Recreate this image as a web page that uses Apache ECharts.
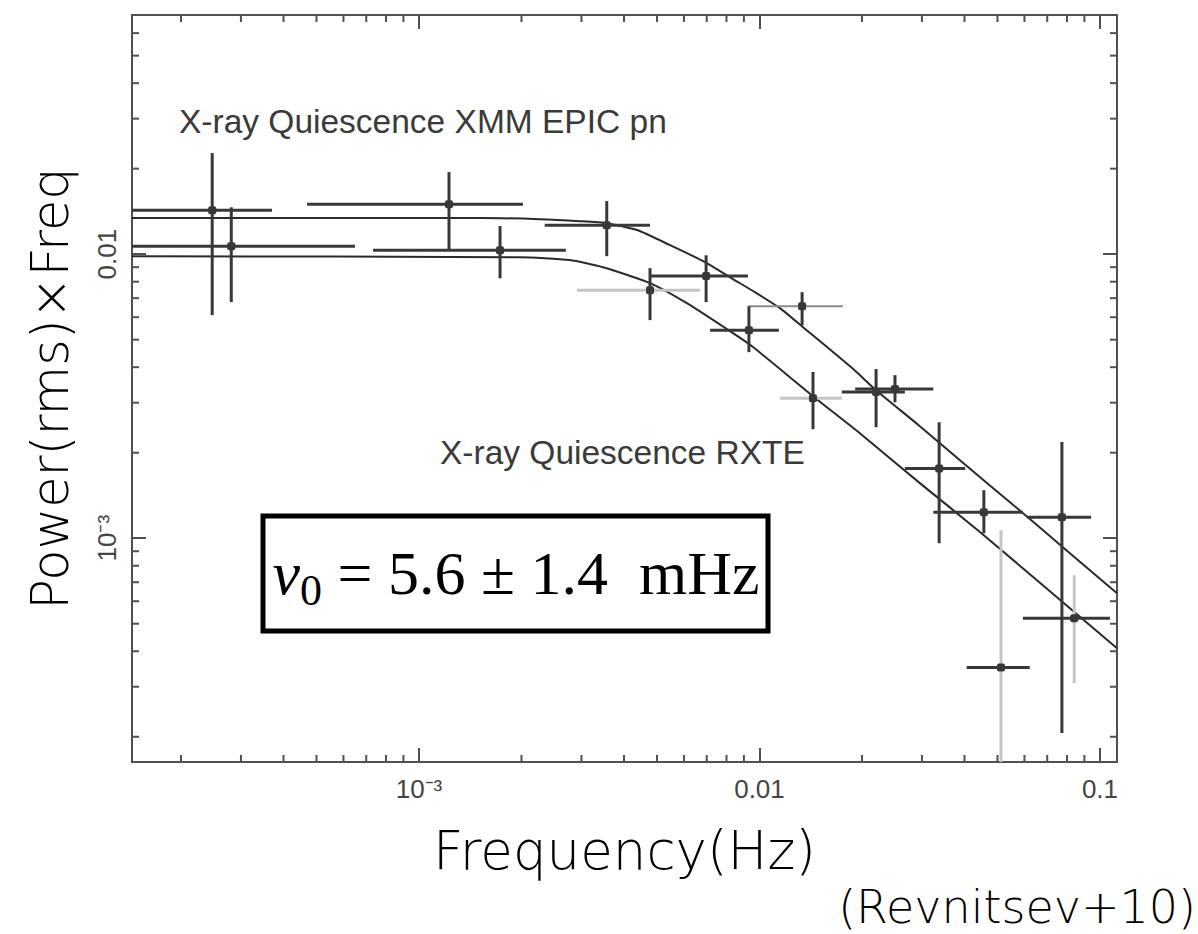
<!DOCTYPE html>
<html>
<head>
<meta charset="utf-8">
<script src="https://cdn.jsdelivr.net/npm/echarts@6/dist/echarts.min.js"></script>
<style>
html, body { margin: 0; padding: 0; background: #ffffff; }
#chart { width: 1198px; height: 934px; }
</style>
</head>
<body>
<div id="chart"></div>
<script>
// ---------- axis ranges and tick labels ----------
const xRange = [1.436e-4, 0.1122];
const yRange = [1.63e-4, 0.0695];
const xTickValues = [0.001, 0.01, 0.1];
const xTickLabels = ['10⁻³', '0.01', '0.1'];
const yTickValues = [0.001, 0.01];
const yTickLabels = ['10⁻³', '0.01'];
const minorMultipliers = [2, 3, 4, 5, 6, 7, 8, 9];
const decades = [-5, -4, -3, -2, -1, 0];

// ---------- data: [freq, freqLow, freqHigh, power, powerLow, powerHigh] ----------
const xmmPoints = [
  [2.47e-4, 1.2e-4, 3.70e-4, 0.01429, 0.00610, 0.0227],
  [1.225e-3, 4.69e-4, 2.02e-3, 0.0150, 0.01042, 0.01945],
  [3.56e-3, 2.34e-3, 4.77e-3, 0.01265, 0.00984, 0.01538],
  [6.97e-3, 4.77e-3, 9.25e-3, 0.00837, 0.00678, 0.00991],
  [0.0220, 0.01745, 0.02673, 0.00327, 0.00246, 0.00394],
  [0.0250, 0.0191, 0.0324, 0.00335, 0.00301, 0.00375],
  [0.0456, 0.0324, 0.0594, 1.234e-3, 1.041e-3, 1.476e-3],
  [0.0773, 0.0611, 0.0942, 1.186e-3, 2.06e-4, 2.18e-3]
];
const xmmFaintXPoints = [
  [0.01334, 9.31e-3, 0.01758, 0.00656, 0.00562, 0.00735]
];
const rxtePoints = [
  [2.81e-4, 1.2e-4, 6.49e-4, 0.01067, 0.00678, 0.01462],
  [1.73e-3, 7.33e-4, 2.70e-3, 0.01033, 0.00822, 0.01256],
  [9.31e-3, 7.16e-3, 0.0114, 0.00540, 0.00452, 0.00656],
  [0.0337, 0.02673, 0.0402, 0.00176, 9.6e-4, 0.00256]
];
const rxteFaintXPoints = [
  [4.77e-3, 2.91e-3, 6.68e-3, 0.00746, 0.00586, 0.00893],
  [0.01436, 0.01148, 0.01745, 0.00311, 0.00242, 0.00385]
];
const rxteFaintYPoints = [
  [0.0512, 0.0406, 0.0622, 3.51e-4, 1.2e-4, 1.067e-3],
  [0.0840, 0.0594, 0.107, 5.23e-4, 3.09e-4, 7.41e-4]
];

// ---------- model curves ----------
const xmmModelFreq = [1.436e-4, 1.51e-3, 2.26e-3, 2.97e-3, 3.56e-3, 4.37e-3, 5.46e-3, 6.92e-3, 8.36e-3, 9.57e-3, 0.01148, 0.01343, 0.01885, 0.0220, 0.02958, 0.0388, 0.0570, 0.0778, 0.1122];
const xmmModelPower = [0.01340, 0.01340, 0.01328, 0.01307, 0.01286, 0.01216, 0.01076, 0.00938, 0.00817, 0.00742, 0.00646, 0.00553, 0.00394, 0.00332, 0.00248, 0.00188, 0.001277, 9.30e-4, 6.40e-4];
const rxteModelFreq = [1.436e-4, 1.98e-3, 2.77e-3, 3.47e-3, 4.77e-3, 6.12e-3, 8.36e-3, 9.57e-3, 0.01436, 0.01972, 0.02958, 0.0445, 0.0778, 0.1122];
const rxteModelPower = [0.00984, 0.00975, 0.00953, 0.00900, 0.00791, 0.00672, 0.00527, 0.00471, 0.00316, 0.00234, 0.001563, 1.050e-3, 5.95e-4, 4.10e-4];

// ---------- texts ----------
const xAxisTitle = 'Frequency(Hz)';
const yAxisTitle = 'Power(rms)×Freq';
const labelXMM = 'X-ray Quiescence XMM EPIC pn';
const labelRXTE = 'X-ray Quiescence RXTE';
const citation = '(Revnitsev+10)';

// ---------- helpers ----------
const FRAME = '#505050';
const DARK = '#383838';

function tickFormatter(values, labels) {
  return function (v) {
    for (let i = 0; i < values.length; i++) {
      if (Math.abs(Math.log10(v / values[i])) < 1e-6) return labels[i];
    }
    return '';
  };
}

const xMinor = [], yMinor = [];
decades.forEach(function (k) {
  minorMultipliers.forEach(function (m) {
    const v = m * Math.pow(10, k);
    if (v > xRange[0] && v < xRange[1]) xMinor.push([v, yRange[0]]);
    if (v > yRange[0] && v < yRange[1]) yMinor.push([xRange[0], v]);
  });
});

function errSeries(name, rows, xColor, xWidth, yColor, yWidth) {
  return {
    type: 'custom',
    name: name,
    data: rows,
    clip: true,
    z: 5,
    encode: { x: [0, 1, 2], y: [3, 4, 5] },
    renderItem: function (params, api) {
      const f = api.value(0), fl = api.value(1), fh = api.value(2);
      const p = api.value(3), pl = api.value(4), ph = api.value(5);
      const c = api.coord([f, p]);
      const l = api.coord([fl, p]), r = api.coord([fh, p]);
      const b = api.coord([f, pl]), t = api.coord([f, ph]);
      return {
        type: 'group',
        children: [
          { type: 'line', shape: { x1: l[0], y1: l[1], x2: r[0], y2: r[1] }, style: { stroke: xColor, lineWidth: xWidth } },
          { type: 'line', shape: { x1: b[0], y1: b[1], x2: t[0], y2: t[1] }, style: { stroke: yColor, lineWidth: yWidth } },
          { type: 'rect', shape: { x: c[0] - 4, y: c[1] - 4, width: 8, height: 8, r: 2 }, style: { fill: DARK } }
        ]
      };
    }
  };
}

function zip(a, b) { return a.map(function (v, i) { return [v, b[i]]; }); }

const chart = echarts.init(document.getElementById('chart'), null, { renderer: 'svg' });

const axisCommon = {
  type: 'log',
  logBase: 10,
  axisLine: { show: true, onZero: false, lineStyle: { color: FRAME, width: 2 } },
  axisTick: { show: true, inside: true, length: 14, lineStyle: { color: FRAME, width: 2 } },
  splitLine: { show: false },
  minorTick: { show: false }
};

const option = {
  backgroundColor: '#ffffff',
  animation: false,
  grid: { left: 132, right: 81, top: 15, bottom: 172, containLabel: false },
  xAxis: [
    Object.assign({}, axisCommon, {
      position: 'bottom',
      min: xRange[0], max: xRange[1],
      axisLabel: { formatter: tickFormatter(xTickValues, xTickLabels), fontSize: 26, color: '#444', margin: 14, fontFamily: 'Liberation Sans' },
      name: xAxisTitle,
      nameLocation: 'middle',
      nameGap: 62,
      nameTextStyle: { fontSize: 53, color: '#000', fontFamily: 'DejaVu Sans', fontWeight: 200 }
    }),
    Object.assign({}, axisCommon, {
      position: 'top',
      min: xRange[0], max: xRange[1],
      axisLabel: { show: false }
    })
  ],
  yAxis: [
    Object.assign({}, axisCommon, {
      position: 'left',
      min: yRange[0], max: yRange[1],
      axisLabel: { formatter: tickFormatter(yTickValues, yTickLabels), fontSize: 26, color: '#444', margin: 12, rotate: 90, fontFamily: 'Liberation Sans' },
      name: yAxisTitle,
      nameLocation: 'middle',
      nameGap: 56,
      nameTextStyle: { fontSize: 51, color: '#000', fontFamily: 'DejaVu Sans', fontWeight: 200 }
    }),
    Object.assign({}, axisCommon, {
      position: 'right',
      min: yRange[0], max: yRange[1],
      axisLabel: { show: false }
    })
  ],
  series: [
    {
      type: 'line', name: 'XMM model', data: zip(xmmModelFreq, xmmModelPower),
      showSymbol: false, smooth: 0.2, clip: true, z: 3,
      lineStyle: { color: '#2a2a2a', width: 2 }
    },
    {
      type: 'line', name: 'RXTE model', data: zip(rxteModelFreq, rxteModelPower),
      showSymbol: false, smooth: 0.2, clip: true, z: 3,
      lineStyle: { color: '#2a2a2a', width: 2 }
    },
    errSeries('XMM', xmmPoints, DARK, 3, DARK, 3),
    errSeries('XMM faint', xmmFaintXPoints, '#8a8a8a', 2, DARK, 3),
    errSeries('RXTE', rxtePoints, DARK, 3, DARK, 3),
    errSeries('RXTE faint x', rxteFaintXPoints, '#c4c4c4', 3, DARK, 3),
    errSeries('RXTE faint y', rxteFaintYPoints, DARK, 3, '#c4c4c4', 3),
    {
      type: 'custom', name: 'x minor ticks', data: xMinor, z: 6, silent: true,
      encode: { x: 0, y: 1 },
      renderItem: function (params, api) {
        const cs = params.coordSys;
        const x = api.coord([api.value(0), api.value(1)])[0];
        const bottom = cs.y + cs.height;
        return {
          type: 'group',
          children: [
            { type: 'line', shape: { x1: x, y1: bottom, x2: x, y2: bottom - 7 }, style: { stroke: FRAME, lineWidth: 2 } },
            { type: 'line', shape: { x1: x, y1: cs.y, x2: x, y2: cs.y + 7 }, style: { stroke: FRAME, lineWidth: 2 } }
          ]
        };
      }
    },
    {
      type: 'custom', name: 'y minor ticks', data: yMinor, z: 6, silent: true,
      encode: { x: 0, y: 1 },
      renderItem: function (params, api) {
        const cs = params.coordSys;
        const y = api.coord([api.value(0), api.value(1)])[1];
        const right = cs.x + cs.width;
        return {
          type: 'group',
          children: [
            { type: 'line', shape: { x1: cs.x, y1: y, x2: cs.x + 7, y2: y }, style: { stroke: FRAME, lineWidth: 2 } },
            { type: 'line', shape: { x1: right, y1: y, x2: right - 7, y2: y }, style: { stroke: FRAME, lineWidth: 2 } }
          ]
        };
      }
    }
  ],
  graphic: [
    {
      type: 'text', z: 10,
      style: { text: labelXMM, x: 179, y: 121, fill: '#3a3a3a', font: '33.5px "Liberation Sans", Arial, sans-serif', textAlign: 'left', verticalAlign: 'middle' }
    },
    {
      type: 'text', z: 10,
      style: { text: labelRXTE, x: 440, y: 452, fill: '#3a3a3a', font: '33.5px "Liberation Sans", Arial, sans-serif', textAlign: 'left', verticalAlign: 'middle' }
    },
    {
      type: 'rect', z: 10,
      shape: { x: 263, y: 516, width: 505, height: 115 },
      style: { fill: '#ffffff', stroke: '#000000', lineWidth: 5 }
    },
    {
      type: 'text', z: 11,
      style: {
        text: '{nu|ν}{sub|0}{t| = 5.6 ± 1.4  mHz}',
        x: 516, y: 573,
        textAlign: 'center', verticalAlign: 'middle',
        fill: '#000',
        rich: {
          nu: { fontFamily: 'Liberation Serif', fontStyle: 'italic', fontSize: 62, fill: '#000' },
          sub: { fontFamily: 'Liberation Serif', fontSize: 44, fill: '#000', padding: [34, 0, 0, 0] },
          t: { fontFamily: 'Liberation Serif', fontSize: 62, fill: '#000' }
        }
      }
    },
    {
      type: 'text', z: 10,
      style: { text: citation, x: 1196, y: 907, fill: '#000', font: '200 46px "DejaVu Sans", sans-serif', textAlign: 'right', verticalAlign: 'middle' }
    }
  ]
};

chart.setOption(option);
</script>
</body>
</html>
